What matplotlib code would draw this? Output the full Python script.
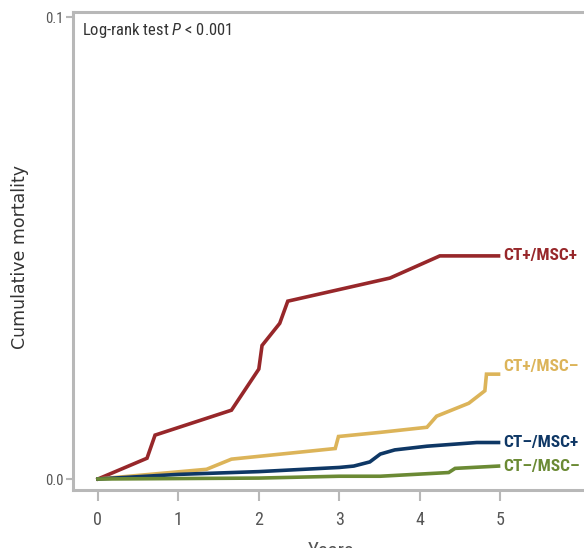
import matplotlib.pyplot as plt
from matplotlib import font_manager
from matplotlib.transforms import Bbox

# curves (years, cumulative mortality)
t_pp = [0, 0.61, 0.71, 1.66, 2.0, 2.04, 2.26, 2.36, 3.63, 4.25, 4.98]
m_pp = [0, 0.0045, 0.0095, 0.0149, 0.0238, 0.0289, 0.0337, 0.0385, 0.0435, 0.0483, 0.0483]

t_pm = [0, 1.35, 1.66, 2.95, 2.99, 3.51, 4.09, 4.21, 4.61, 4.81, 4.83, 4.98]
m_pm = [0, 0.0021, 0.0043, 0.0066, 0.0092, 0.0101, 0.0112, 0.0136, 0.0164, 0.0191, 0.0227, 0.0227]

t_mp = [0, 1.0, 2.0, 3.0, 3.18, 3.38, 3.51, 3.69, 4.09, 4.71, 4.98]
m_mp = [0, 0.0010, 0.0016, 0.0025, 0.0028, 0.0037, 0.0054, 0.0063, 0.0071, 0.0079, 0.0079]

t_mm = [0, 1.0, 2.0, 3.0, 3.51, 4.36, 4.44, 4.98]
m_mm = [0, 0.0001, 0.0002, 0.0006, 0.0006, 0.0014, 0.0023, 0.0028]

labels = ['CT+/MSC+', 'CT+/MSC\u2013', 'CT\u2013/MSC+', 'CT\u2013/MSC\u2013']
colors = ['#97272a', '#dcb459', '#0e3765', '#6b8a34']
label_y = [0.0483, 0.0243, 0.0079, 0.0027]

# the reference uses a tall narrow face, pick a condensed one that is installed
have = {f.name for f in font_manager.fontManager.ttflist}
cond = next(f for f in ['Roboto Condensed', 'Barlow Condensed', 'Archivo Narrow', 'DejaVu Sans'] if f in have)
plt.rcParams['mathtext.fontset'] = 'custom'
plt.rcParams['mathtext.rm'] = cond
plt.rcParams['mathtext.it'] = cond + ':italic'

fig = plt.figure(figsize=(5.84, 5.57), dpi=100)
ax = fig.add_axes([73/584, 67/557, 547/584, 478/557])

for t, m, c in zip([t_pp, t_pm, t_mp, t_mm], [m_pp, m_pm, m_mp, m_mm], colors):
    ax.plot(t, m, color=c, lw=2.6, solid_joinstyle='miter', zorder=3)

for lab, y, c in zip(labels, label_y, colors):
    ax.text(5.04, y, lab, color=c, fontsize=12.5, fontweight='bold',
            family=cond, va='center', ha='left')

ax.text(0.017, 0.981, 'Log-rank test $\\it{P}$ < 0.001', transform=ax.transAxes,
        fontsize=12, family=cond, color='#333333', va='top', ha='left')

ax.set_xlim(-0.31, 6.49)
ax.set_ylim(-0.00238, 0.1011)
ax.set_xticks([0, 1, 2, 3, 4, 5])
ax.set_yticks([0.0, 0.1])
ax.set_yticklabels(['0.0', '0.1'])

for lab in ax.get_xticklabels() + ax.get_yticklabels():
    lab.set_family(cond)
    lab.set_color('#555555')
for lab in ax.get_xticklabels():
    lab.set_fontsize(13)
for lab in ax.get_yticklabels():
    lab.set_fontsize(10.5)

ax.tick_params(axis='x', length=8, width=1.5, color='#b8b8b8', pad=7)
ax.tick_params(axis='y', length=5, width=1.5, color='#b8b8b8', pad=1.5)

for s in ['left', 'top', 'bottom']:
    ax.spines[s].set_color('#b8b8b8')
    ax.spines[s].set_linewidth(2.2)
ax.spines['right'].set_visible(False)

ax.set_ylabel('Cumulative mortality', fontsize=12.5, color='#333333')
ax.yaxis.set_label_coords(-0.081, 0.487)

# x label sits at the bottom edge; only the top of it shows in the reference
xl = ax.text(2.61, -0.01355, 'Years', fontsize=15, family=cond, color='#555555',
             ha='left', va='top')
xl.set_clip_box(Bbox([[0, 9], [584, 557]]))
xl.set_clip_on(True)

fig.savefig('out.png', dpi=100)
